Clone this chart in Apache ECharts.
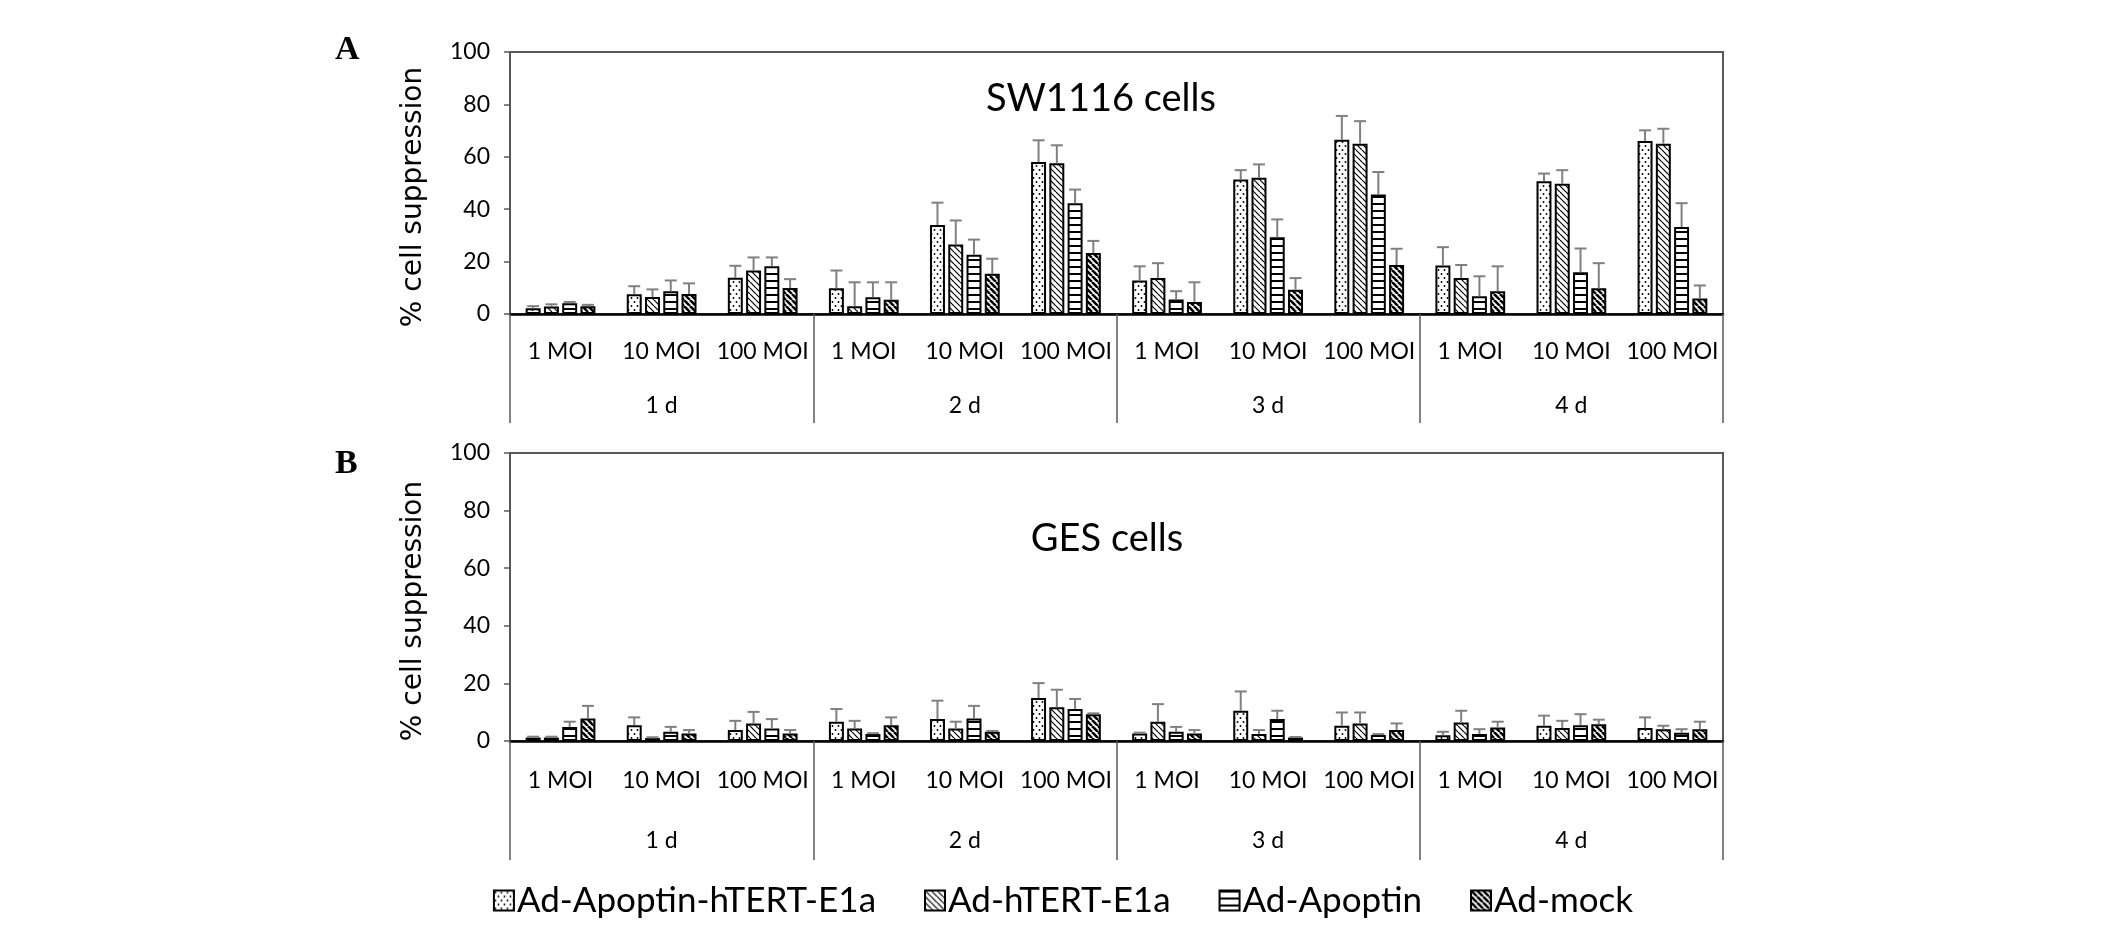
<!DOCTYPE html>
<html>
<head>
	<meta charset="utf-8"/>
	<title>SW1116 / GES cell suppression</title>
	<style>body { margin: 0; background: #fff; }</style>
</head>
<body>

	<div id="chart" style="width: 2126px; height: 927px;"></div>

	<script src="https://cdn.jsdelivr.net/npm/echarts@6/dist/echarts.min.js"></script>
	<script>

		var moiLabels = ['1 MOI', '10 MOI', '100 MOI', '1 MOI', '10 MOI', '100 MOI',
			'1 MOI', '10 MOI', '100 MOI', '1 MOI', '10 MOI', '100 MOI'];
		var dayLabels = ['1 d', '2 d', '3 d', '4 d'];
		var seriesNames = ['Ad-Apoptin-hTERT-E1a', 'Ad-hTERT-E1a', 'Ad-Apoptin', 'Ad-mock'];
		var yTicks = [0, 20, 40, 60, 80, 100];

		// A: SW1116 cells
		var swApoptinHtert = [2.2, 7.5, 13.8, 9.8, 34, 58, 12.8, 51.3, 66.5, 18.5, 50.7, 66];
		var swHtert = [2.9, 6.5, 16.6, 3.0, 26.5, 57.5, 13.7, 52, 65, 13.7, 49.7, 65];
		var swApoptin = [4.1, 8.7, 18.2, 6.4, 22.6, 42.3, 5.5, 29.3, 45.6, 6.8, 15.9, 33.2];
		var swMock = [3.0, 7.6, 9.9, 5.4, 15.4, 23.3, 4.6, 9.3, 18.7, 8.7, 9.8, 5.9];
		var swApoptinHtertErr = [0.8, 3.1, 4.6, 6.8, 8.5, 8.3, 5.4, 3.6, 9.1, 7.0, 2.9, 4.1];
		var swHtertErr = [0.8, 2.9, 5.0, 9.1, 9.2, 6.9, 5.7, 5.1, 8.6, 5.0, 5.2, 5.7];
		var swApoptinErr = [0.5, 4.1, 3.4, 5.7, 5.8, 5.2, 3.2, 6.8, 8.6, 7.6, 9.1, 9.1];
		var swMockErr = [0.5, 4.1, 3.4, 6.7, 5.7, 4.6, 7.5, 4.4, 6.2, 9.5, 9.6, 5.0];

		// B: GES cells
		var gesApoptinHtert = [1.2, 5.5, 3.8, 6.7, 7.6, 14.9, 2.6, 10.5, 5.3, 2.0, 5.3, 4.5];
		var gesHtert = [1.2, 1.0, 6.1, 4.3, 4.3, 11.7, 6.7, 2.4, 6.1, 6.4, 4.5, 4.1];
		var gesApoptin = [4.9, 3.2, 4.3, 2.4, 7.8, 11.1, 3.2, 7.6, 2.1, 2.4, 5.5, 2.9];
		var gesMock = [7.8, 2.6, 2.6, 5.5, 3.2, 9.3, 2.6, 1.2, 3.8, 4.7, 5.8, 4.1];
		var gesApoptinHtertErr = [0.3, 2.7, 3.2, 4.4, 6.4, 5.2, 0.3, 6.7, 4.6, 1.2, 3.5, 3.7];
		var gesHtertErr = [0.3, 0.3, 4.0, 2.7, 2.4, 6.1, 6.1, 1.4, 3.8, 4.1, 2.5, 1.2];
		var gesApoptinErr = [1.8, 1.7, 3.3, 0.3, 4.4, 3.5, 1.7, 2.9, 0.3, 1.7, 3.8, 1.2];
		var gesMockErr = [4.4, 1.2, 1.2, 2.7, 0.3, 0.3, 1.2, 0.2, 2.3, 2.0, 1.6, 2.6];

		var CAT_GAP = 0.31, BAR_GAP = 0.22;
		var LABEL_FONT = 'Lato';

		// hatch fills like the excel chart
		function makePattern (kind) {
			var c = document.createElement('canvas');
			var ctx;
			var s = 6;
			if (kind == 'dots') {
				c.width = 6; c.height = 8;
				ctx = c.getContext('2d');
				ctx.fillStyle = '#fff'; ctx.fillRect(0, 0, 6, 8);
				ctx.fillStyle = '#000';
				ctx.beginPath(); ctx.arc(1.5, 2, 0.95, 0, Math.PI * 2); ctx.fill();
				ctx.beginPath(); ctx.arc(4.5, 6, 0.95, 0, Math.PI * 2); ctx.fill();
			} else if (kind == 'hlines') {
				c.width = 6; c.height = 7;
				ctx = c.getContext('2d');
				ctx.fillStyle = '#fff'; ctx.fillRect(0, 0, 6, 7);
				ctx.fillStyle = '#000'; ctx.fillRect(0, 0, 6, 2);
			} else {
				c.width = s; c.height = s;
				ctx = c.getContext('2d');
				ctx.fillStyle = '#fff'; ctx.fillRect(0, 0, s, s);
				ctx.strokeStyle = '#000';
				ctx.lineWidth = kind == 'diagThick' ? 2.6 : 1.2;
				for (var k = -1; k <= 1; k++) {
					ctx.beginPath();
					ctx.moveTo(k * s, 0);
					ctx.lineTo(k * s + s, s);
					ctx.stroke();
				}
			}
			return { image: c, repeat: 'repeat' };
		}

		var fills = [makePattern('dots'), makePattern('diagThin'), makePattern('hlines'), makePattern('diagThick')];

		function barSeries (name, values, fill, axisIdx) {
			return {
				type: 'bar',
				name: name,
				xAxisIndex: axisIdx * 2,
				yAxisIndex: axisIdx,
				data: values,
				barCategoryGap: (CAT_GAP * 100) + '%',
				barGap: (BAR_GAP * 100) + '%',
				itemStyle: { color: fill, borderColor: '#000', borderWidth: 2 },
				z: 2
			};
		}

		function errorSeries (name, values, errors, axisIdx, idx) {
			var data = [];
			for (var i = 0; i < values.length; i++) {
				data.push([i, values[i], values[i] + errors[i]]);
			}
			return {
				type: 'custom',
				name: name + ' error',
				xAxisIndex: axisIdx * 2,
				yAxisIndex: axisIdx,
				data: data,
				z: 3,
				silent: true,
				renderItem: function (params, api) {
					var cat = api.value(0);
					var base = api.coord([cat, api.value(1)]);
					var top = api.coord([cat, api.value(2)]);
					var band = api.size([1, 0])[0];
					var inner = band * (1 - CAT_GAP);
					var w = inner / (4 + 3 * BAR_GAP);
					var x = base[0] - inner / 2 + idx * w * (1 + BAR_GAP) + w / 2;
					var st = { stroke: '#808080', lineWidth: 2 };
					return {
						type: 'group',
						children: [
							{ type: 'line', shape: { x1: x, y1: base[1], x2: x, y2: top[1] }, style: st },
							{ type: 'line', shape: { x1: x - 6, y1: top[1], x2: x + 6, y2: top[1] }, style: st }
						]
					};
				}
			};
		}

		function moiAxis (grid, margin) {
			return {
				type: 'category',
				gridIndex: grid,
				position: 'bottom',
				data: moiLabels,
				axisLine: { show: true, lineStyle: { color: '#000', width: 2.5 } },
				axisTick: { show: false },
				axisLabel: { interval: 0, margin: margin, fontFamily: LABEL_FONT, fontSize: 23, color: '#000' }
			};
		}

		function dayAxis (grid, tickLen, margin) {
			return {
				type: 'category',
				gridIndex: grid,
				position: 'bottom',
				data: dayLabels,
				axisLine: { show: false },
				axisTick: { show: true, interval: 0, length: tickLen, lineStyle: { color: '#595959', width: 1.5 } },
				axisLabel: { interval: 0, margin: margin, fontFamily: LABEL_FONT, fontSize: 23, color: '#000' }
			};
		}

		function valAxis (grid) {
			return {
				type: 'value',
				gridIndex: grid,
				min: yTicks[0],
				max: yTicks[yTicks.length - 1],
				interval: 20,
				name: '% cell suppression',
				nameLocation: 'middle',
				nameRotate: 90,
				nameGap: 82,
				nameTextStyle: { fontFamily: 'DejaVu Sans', fontSize: 28, color: '#000', padding: [0, 28, 0, 0] },
				axisLine: { show: true, lineStyle: { color: '#595959', width: 1.5 } },
				axisTick: { show: true, length: 6, lineStyle: { color: '#595959', width: 1.5 } },
				splitLine: { show: false },
				axisLabel: { margin: 20, fontFamily: LABEL_FONT, fontSize: 23, color: '#000' }
			};
		}

		var swSets = [swApoptinHtert, swHtert, swApoptin, swMock];
		var swErrs = [swApoptinHtertErr, swHtertErr, swApoptinErr, swMockErr];
		var gesSets = [gesApoptinHtert, gesHtert, gesApoptin, gesMock];
		var gesErrs = [gesApoptinHtertErr, gesHtertErr, gesApoptinErr, gesMockErr];

		var series = [];
		for (var i = 0; i < 4; i++) {
			series.push(barSeries(seriesNames[i], swSets[i], fills[i], 0));
			series.push(barSeries(seriesNames[i], gesSets[i], fills[i], 1));
		}
		for (var j = 0; j < 4; j++) {
			series.push(errorSeries(seriesNames[j], swSets[j], swErrs[j], 0, j));
			series.push(errorSeries(seriesNames[j], gesSets[j], gesErrs[j], 1, j));
		}

		var option = {
			animation: false,
			backgroundColor: '#fff',
			title: [
				{ text: 'A', left: 330, top: 28, textStyle: { fontFamily: 'Liberation Serif', fontWeight: 'bold', fontSize: 34, color: '#000' } },
				{ text: 'B', left: 330, top: 442, textStyle: { fontFamily: 'Liberation Serif', fontWeight: 'bold', fontSize: 34, color: '#000' } },
				{ text: 'SW1116 cells', left: 1096, top: 75, textAlign: 'center', textStyle: { fontFamily: LABEL_FONT, fontWeight: 'normal', fontSize: 38, color: '#000' } },
				{ text: 'GES cells', left: 1102, top: 515, textAlign: 'center', textStyle: { fontFamily: LABEL_FONT, fontWeight: 'normal', fontSize: 38, color: '#000' } }
			],
			legend: {
				data: seriesNames,
				left: 'center',
				top: 878,
				itemGap: 48,
				itemWidth: 20,
				itemHeight: 20,
				icon: 'rect',
				textStyle: { fontFamily: LABEL_FONT, fontSize: 35, color: '#000', padding: [0, 0, 0, -2] }
			},
			grid: [
				{ left: 510, right: 403, top: 52, height: 262, show: true, borderColor: '#595959', borderWidth: 2, containLabel: false },
				{ left: 510, right: 403, top: 453, height: 288, show: true, borderColor: '#595959', borderWidth: 2, containLabel: false }
			],
			xAxis: [moiAxis(0, 26), dayAxis(0, 109, 80), moiAxis(1, 28), dayAxis(1, 119, 88)],
			yAxis: [valAxis(0), valAxis(1)],
			series: series
		};

		var myChart = echarts.init(document.getElementById('chart'));
		myChart.setOption(option);

	</script>
</body>
</html>
